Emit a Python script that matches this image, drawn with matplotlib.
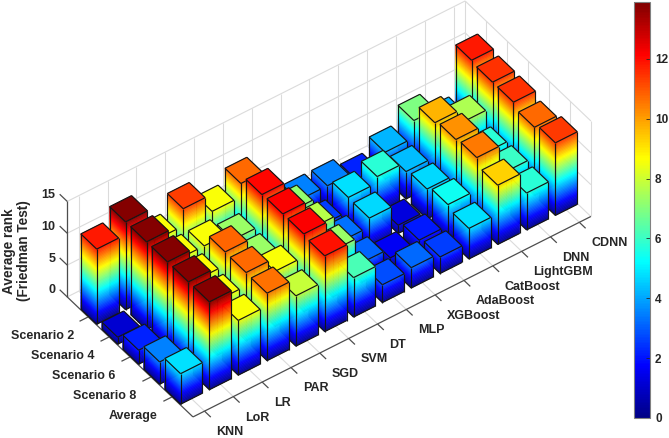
import numpy as np
import matplotlib
matplotlib.use("Agg")
import matplotlib.pyplot as plt
from matplotlib.cm import ScalarMappable
from matplotlib.colors import LinearSegmentedColormap, Normalize
from mpl_toolkits.mplot3d import proj3d
from mpl_toolkits.mplot3d.art3d import Line3DCollection, Poly3DCollection

plt.rcParams["font.family"] = ["Liberation Sans", "DejaVu Sans"]
plt.rcParams["font.weight"] = "bold"

models = ["KNN", "LoR", "LR", "PAR", "SGD", "SVM", "DT", "MLP", "XGBoost",
          "AdaBoost", "CatBoost", "LightGBM", "DNN", "CDNN"]
scenarios = ["Scenario 2", "Scenario 4", "Scenario 6", "Scenario 8", "Average"]

knn = [11.8, 1.1, 2.2, 3.5, 4.8]
lor = [13.8, 13.8, 13.8, 13.8, 13.8]
lr = [8.6, 8.6, 8.7, 8.6, 8.6]
par = [11.3, 8.6, 10.8, 10.7, 10.6]
sgd = [8.6, 7.3, 7.3, 8.6, 7.9]
svm = [10.7, 12.1, 12.2, 12.2, 11.9]
dt = [5.0, 7.2, 7.7, 7.3, 6.2]
mlp = [3.5, 2.6, 3.3, 3.1, 2.8]
xgboost = [3.5, 4.8, 4.7, 1.6, 3.2]
adaboost = [2.2, 5.8, 1.3, 2.1, 2.6]
catboost = [4.2, 4.3, 4.7, 5.4, 4.8]
lightgbm = [6.9, 9.7, 10.2, 10.5, 9.3]
dnn = [4.2, 7.6, 5.8, 6.0, 5.8]
cdnn = [11.8, 11.5, 11.5, 10.7, 11.4]
ranks = np.array([knn, lor, lr, par, sgd, svm, dt, mlp, xgboost, adaboost,
                  catboost, lightgbm, dnn, cdnn])

z_ticks = [0, 5, 10, 15]
cbar_ticks = [0, 2, 4, 6, 8, 10, 12]
X_LIM = (0.6, 14.4)
Y_LIM = (6.0, 0.0)
Z_LIM = (0.0, 15.0)
C_MAX = 13.9
BAR = 0.76
TEXT = (0.15, 0.15, 0.15)
GRID = (0.86, 0.86, 0.86)

jet = LinearSegmentedColormap.from_list("jet_classic", [
    (0.0, (0.0, 0.0, 0.52)), (0.125, (0.0, 0.0, 1.0)), (0.375, (0.0, 1.0, 1.0)),
    (0.625, (1.0, 1.0, 0.0)), (0.875, (1.0, 0.0, 0.0)), (1.0, (0.5, 0.0, 0.0))], N=256)
norm = Normalize(0, C_MAX)

W, H = 669, 438
fig = plt.figure(figsize=(W / 100, H / 100), dpi=100)
S = 640.0
ax = fig.add_axes([0.4 / W, -99.6 / H, S / W, S / H], projection="3d",
                  proj_type="ortho", computed_zorder=False)
ax.set_box_aspect((492, 214, 132.6), zoom=0.838)
ax.view_init(elev=43.9, azim=-126)
ax.set_xlim(*X_LIM)
ax.set_ylim(*Y_LIM)
ax.set_zlim(*Z_LIM)
ax.set_axis_off()

x0, x1 = X_LIM
y1, y0 = Y_LIM
z1 = Z_LIM[1]
x_pos = np.arange(1, len(models) + 1)
y_pos = np.arange(1, len(scenarios) + 1)


def seg(p, q, color=GRID, lw=0.8, zorder=1):
    ax.plot([p[0], q[0]], [p[1], q[1]], [p[2], q[2]], color=color, lw=lw,
            zorder=zorder, solid_capstyle="butt")


def label(x, y, z, name, ha):
    # Tick labels sit at a projected data position on the plot plane
    px, py, _ = proj3d.proj_transform(x, y, z, ax.get_proj())
    ax.annotate(name, (px, py), xycoords="data", ha=ha, va="center", fontsize=9,
                color=TEXT, annotation_clip=False)


# Walls and floor grid
for z in z_ticks:
    seg((x0, y0, z), (x1, y0, z))
    seg((x1, y0, z), (x1, y1, z))
for x in list(x_pos):
    seg((x, y0, 0), (x, y0, z1))
    seg((x, y0, 0), (x, y1, 0))
for y in list(y_pos):
    seg((x1, y, 0), (x1, y, z1))
    seg((x0, y, 0), (x1, y, 0))
seg((x1, y0, 0), (x1, y0, z1))
seg((x1, y1, 0), (x1, y1, z1))
seg((x0, y0, 0), (x0, y0, z1))

# Axis lines and tick marks
AX = (0.3, 0.3, 0.3)
seg((x0, y1, 0), (x1, y1, 0), AX, 0.9, 2)
seg((x0, y0, 0), (x0, y1, 0), AX, 0.9, 2)
seg((x0, y0, 0), (x0, y0, z1), AX, 0.9, 2)
for x in x_pos:
    seg((x, y1, 0), (x, y1 + 0.3, 0), AX, 0.9, 2)
for y in y_pos:
    seg((x0, y, 0), (x0 - 0.3, y, 0), AX, 0.9, 2)
for z in z_ticks:
    seg((x0, y0, z), (x0, y0 - 0.36, z), AX, 0.9, 2)

# Bars, painted from the far corner to the near corner
order = 3
for i in range(len(models) - 1, -1, -1):
    for j in range(len(scenarios)):
        v = ranks[i, j]
        xa, xb = x_pos[i] - BAR / 2, x_pos[i] + BAR / 2
        ya, yb = y_pos[j] - BAR / 2, y_pos[j] + BAR / 2
        levels = np.linspace(0, v, max(int(v / 0.12), 2) + 1)
        polys, cols = [], []
        for lo, hi in zip(levels[:-1], levels[1:]):
            c = jet(norm((lo + hi) / 2))
            polys.append([(xa, yb, lo), (xb, yb, lo), (xb, yb, hi), (xa, yb, hi)])
            polys.append([(xa, ya, lo), (xa, yb, lo), (xa, yb, hi), (xa, ya, hi)])
            cols += [c, c]
        polys.append([(xa, ya, v), (xb, ya, v), (xb, yb, v), (xa, yb, v)])
        cols.append(jet(norm(v)))
        ax.add_collection3d(Poly3DCollection(polys, facecolors=cols, edgecolors=cols,
                                             linewidths=0.3, zorder=order))
        edges = [[(xa, ya, v), (xb, ya, v)], [(xb, ya, v), (xb, yb, v)],
                 [(xb, yb, v), (xa, yb, v)], [(xa, yb, v), (xa, ya, v)],
                 [(xa, yb, 0), (xa, yb, v)], [(xb, yb, 0), (xb, yb, v)],
                 [(xa, ya, 0), (xa, ya, v)], [(xa, yb, 0), (xb, yb, 0)],
                 [(xa, ya, 0), (xa, yb, 0)]]
        ax.add_collection3d(Line3DCollection(edges, colors="#151515", linewidths=0.85,
                                             zorder=order + 0.5))
        order += 1

# Tick labels
for x, name in zip(x_pos, models):
    label(x, y1 + 0.57, -1.5, name, "left")
for y, name in zip(y_pos, scenarios):
    label(x0 - 0.5, y, -1.9, name, "right")
for z in z_ticks:
    label(x0, y0 - 0.55, z - 0.7, str(z), "right")

fig.text(16.5 / W, 1 - 251 / H, "Average rank\n(Friedman Test)", rotation=90, ha="center",
         va="center", multialignment="center", fontsize=9.8, color=TEXT, linespacing=1.1)

# Colour scale
cax = fig.add_axes([633.5 / W, 1 - 418 / H, 16 / W, 416 / H])
cb = fig.colorbar(ScalarMappable(norm=norm, cmap=jet), cax=cax, ticks=cbar_ticks)
cb.ax.tick_params(direction="in", length=3, width=0.6, color=TEXT, labelsize=8.5,
                  labelcolor=TEXT, pad=4)
cb.outline.set_edgecolor((0.5, 0.5, 0.5))
cb.outline.set_linewidth(0.8)

fig.savefig("out.png", dpi=100)
